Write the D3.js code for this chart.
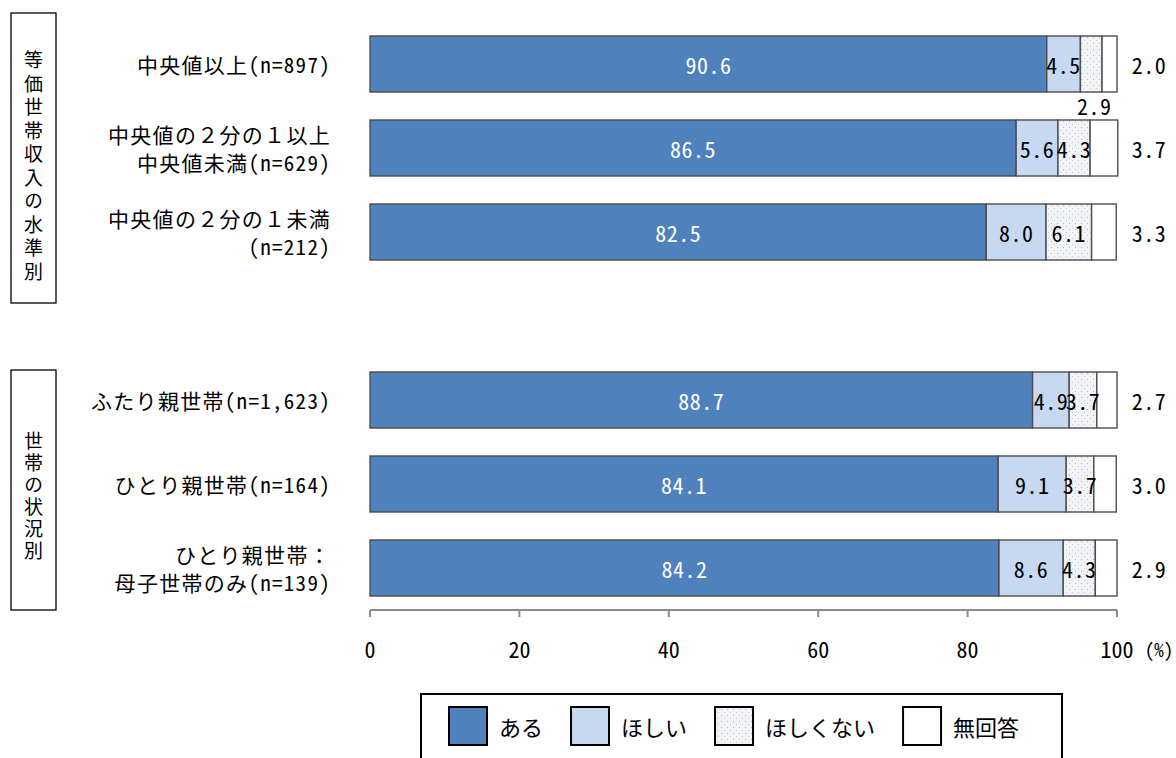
<!DOCTYPE html>
<html>
<head>
<meta charset="utf-8">
<script src="https://cdn.jsdelivr.net/npm/d3@7"></script>
<style>
  html, body { margin: 0; padding: 0; background: #fff; }
  svg { display: block; }
  text { font-family: "Noto Sans Mono CJK JP", "Noto Sans CJK JP", sans-serif; fill: #000; }
</style>
</head>
<body>
<svg id="chart" width="1176" height="758"></svg>
<script>
// ---- data ----
const categories = ["inc1", "inc2", "inc3", "gap", "hh1", "hh2", "hh3"];
const categoryLabels = [
  ["中央値以上(n=897)"],
  ["中央値の２分の１以上", "中央値未満(n=629)"],
  ["中央値の２分の１未満", "(n=212)"],
  [],
  ["ふたり親世帯(n=1,623)"],
  ["ひとり親世帯(n=164)"],
  ["ひとり親世帯：", "母子世帯のみ(n=139)"]
];
const seriesNames = ["ある", "ほしい", "ほしくない", "無回答"];
const valAru        = [90.6, 86.5, 82.5, null, 88.7, 84.1, 84.2];
const valHoshii     = [4.5, 5.6, 8.0, null, 4.9, 9.1, 8.6];
const valHoshikunai = [2.9, 4.3, 6.1, null, 3.7, 3.7, 4.3];
const valMukaitou   = [2.0, 3.7, 3.3, null, 2.7, 3.0, 2.9];
const xTicks = [0, 20, 40, 60, 80, 100];
const groupTitles = ["等価世帯収入の水準別", "世帯の状況別"];

// ---- layout ----
const svg = d3.select("#chart");
const x = d3.scaleLinear().domain([0, 100]).range([370, 1117]);
const y = d3.scaleBand().domain(categories).range([22, 610]).paddingInner(1/3).paddingOuter(1/6);
const bw = y.bandwidth();

const defs = svg.append("defs");
const pat = defs.append("pattern").attr("id", "dots").attr("patternUnits", "userSpaceOnUse")
  .attr("width", 6).attr("height", 6);
pat.append("rect").attr("width", 6).attr("height", 6).attr("fill", "#f1f3f6");
pat.append("rect").attr("x", 1).attr("y", 1).attr("width", 1).attr("height", 1).attr("fill", "#aeb6c2");
pat.append("rect").attr("x", 4).attr("y", 4).attr("width", 1).attr("height", 1).attr("fill", "#c4cad3");

const fills = ["#4f81bd", "#c6d9f1", "url(#dots)", "#ffffff"];
const series = [valAru, valHoshii, valHoshikunai, valMukaitou];

// rows
const rows = categories.map((c, i) => {
  let acc = 0;
  const segs = series.map((s, k) => {
    const v = s[i];
    const seg = { key: k, v: v, x0: acc, x1: acc + (v || 0) };
    acc += (v || 0);
    return seg;
  });
  return { cat: c, i: i, segs: segs, valid: series[0][i] != null };
}).filter(r => r.valid);

const gRows = svg.append("g").selectAll("g").data(rows).join("g")
  .attr("transform", d => `translate(0,${y(d.cat)})`);

gRows.selectAll("rect").data(d => d.segs).join("rect")
  .attr("x", d => x(d.x0))
  .attr("y", 0)
  .attr("width", d => x(d.x1) - x(d.x0))
  .attr("height", bw)
  .attr("fill", d => fills[d.key])
  .attr("stroke", "#4d4d4d")
  .attr("stroke-width", 1.4);

// value labels
gRows.each(function(r) {
  const g = d3.select(this);
  r.segs.forEach(s => {
    const txt = s.v.toFixed(1);
    let tx, ty;
    if (s.key === 3) {
      tx = x(100) + 32; ty = bw / 2;
    } else if (s.key === 2 && r.i === 0) {
      tx = (x(s.x0) + x(s.x1)) / 2 + 3; ty = bw + 13;
    } else {
      tx = (x(s.x0) + x(s.x1)) / 2; ty = bw / 2;
    }
    g.append("text")
      .attr("x", tx).attr("y", ty)
      .attr("text-anchor", "middle")
      .attr("dominant-baseline", "central")
      .style("font-size", "22px")
      .style("letter-spacing", "0.5px")
      .style("fill", s.key === 0 ? "#ffffff" : "#000000")
      .text(txt);
  });
});

// category labels
categories.forEach((c, i) => {
  const lines = categoryLabels[i];
  if (!lines.length) return;
  const cy = y(c) + bw / 2;
  const t = svg.append("text")
    .attr("text-anchor", "end")
    .style("font-size", "21px")
    .style("letter-spacing", "1.3px");
  lines.forEach((ln, j) => {
    t.append("tspan")
      .attr("x", 331)
      .attr("y", cy + (j - (lines.length - 1) / 2) * 28)
      .attr("dominant-baseline", "central")
      .text(ln);
  });
});

// axis
const axisG = svg.append("g").attr("transform", "translate(0,610)");
axisG.append("line").attr("x1", x(0)).attr("x2", x(100)).attr("y1", 0).attr("y2", 0)
  .attr("stroke", "#8c8c8c").attr("stroke-width", 2);
axisG.selectAll("line.tick").data(xTicks).join("line").attr("class", "tick")
  .attr("x1", d => x(d)).attr("x2", d => x(d)).attr("y1", 0).attr("y2", 7)
  .attr("stroke", "#8c8c8c").attr("stroke-width", 2);
axisG.selectAll("text.tl").data(xTicks).join("text").attr("class", "tl")
  .attr("x", d => x(d)).attr("y", 38)
  .attr("text-anchor", "middle").attr("dominant-baseline", "central")
  .style("font-size", "22px")
  .text(d => d);
axisG.append("text").attr("x", x(100) + 42).attr("y", 38)
  .attr("text-anchor", "middle").attr("dominant-baseline", "central")
  .style("font-size", "19px")
  .text("(%)");

// group boxes with vertical titles (single vertical text each)
const groupBoxes = [
  { top: 13, height: 290, center: 168, spacing: 4.5 },
  { top: 370, height: 240, center: 497, spacing: 3 }
];
groupBoxes.forEach((b, gi) => {
  svg.append("rect").attr("x", 11).attr("y", b.top).attr("width", 45).attr("height", b.height)
    .attr("fill", "none").attr("stroke", "#000").attr("stroke-width", 1.3);
  svg.append("text")
    .attr("x", 33.5).attr("y", b.center)
    .attr("text-anchor", "middle")
    .style("writing-mode", "vertical-rl")
    .style("glyph-orientation-vertical", "0")
    .style("font-size", "19px")
    .style("letter-spacing", b.spacing + "px")
    .text(groupTitles[gi]);
});

// legend
const lg = svg.append("g");
lg.append("rect").attr("x", 421).attr("y", 694).attr("width", 641).attr("height", 90)
  .attr("fill", "#fff").attr("stroke", "#000").attr("stroke-width", 2);
let lx = 449;
seriesNames.forEach((name, k) => {
  lg.append("rect").attr("x", lx).attr("y", 707).attr("width", 38).attr("height", 38)
    .attr("fill", fills[k]).attr("stroke", "#000").attr("stroke-width", 2);
  const t = lg.append("text").attr("x", lx + 50).attr("y", 726)
    .attr("dominant-baseline", "central")
    .style("font-size", "22px")
    .text(name);
  lx = lx + 50 + t.node().getComputedTextLength() + 28;
});
</script>
</body>
</html>
